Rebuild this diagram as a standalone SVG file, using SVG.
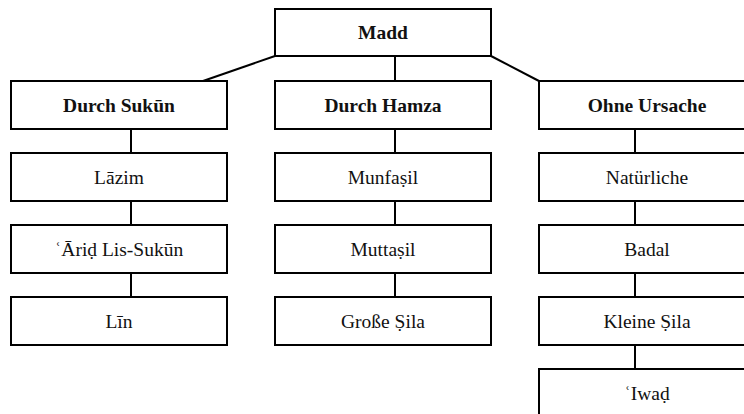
<svg xmlns="http://www.w3.org/2000/svg" width="744" height="414" viewBox="0 0 744 414">
<style>
.box{fill:#fff;stroke:#000;stroke-width:2}
.c{fill:none;stroke:#000;stroke-width:2}
text{font-family:"Liberation Serif","DejaVu Serif",serif;font-size:19.5px;fill:#111;text-anchor:middle}
.b{font-weight:bold}
</style>
<rect width="744" height="414" fill="#fff"/>
<g id="connectors">
<line class="c" x1="275" y1="56" x2="203" y2="81"/>
<line class="c" x1="395" y1="56" x2="395" y2="81"/>
<line class="c" x1="491" y1="56" x2="539" y2="81"/>
<line class="c" x1="131" y1="129" x2="131" y2="153"/>
<line class="c" x1="131" y1="201" x2="131" y2="225"/>
<line class="c" x1="131" y1="273" x2="131" y2="297"/>
<line class="c" x1="395" y1="129" x2="395" y2="153"/>
<line class="c" x1="395" y1="201" x2="395" y2="225"/>
<line class="c" x1="395" y1="273" x2="395" y2="297"/>
<line class="c" x1="635" y1="129" x2="635" y2="153"/>
<line class="c" x1="635" y1="201" x2="635" y2="225"/>
<line class="c" x1="635" y1="273" x2="635" y2="297"/>
<line class="c" x1="635" y1="345" x2="635" y2="369"/>
</g>
<g id="madd"><rect class="box" x="275" y="9" width="216" height="47"/><text class="b" x="383" y="38.5">Madd</text></g>
<g id="durch-sukun"><rect class="box" x="11" y="81" width="216" height="48"/><text class="b" x="119" y="111.5">Durch Sukūn</text></g>
<g id="durch-hamza"><rect class="box" x="275" y="81" width="216" height="48"/><text class="b" x="383" y="111.5">Durch Hamza</text></g>
<g id="ohne-ursache"><rect class="box" x="539" y="81" width="216" height="48"/><text class="b" x="647" y="111.5">Ohne Ursache</text></g>
<g id="lazim"><rect class="box" x="11" y="153" width="216" height="48"/><text x="119" y="183.5">Lāzim</text></g>
<g id="arid"><rect class="box" x="11" y="225" width="216" height="48"/><text x="119" y="255.5">ʿĀriḍ Lis-Sukūn</text></g>
<g id="lin"><rect class="box" x="11" y="297" width="216" height="48"/><text x="119" y="327.5">Līn</text></g>
<g id="munfasil"><rect class="box" x="275" y="153" width="216" height="48"/><text x="383" y="183.5">Munfaṣil</text></g>
<g id="muttasil"><rect class="box" x="275" y="225" width="216" height="48"/><text x="383" y="255.5">Muttaṣil</text></g>
<g id="grosse-sila"><rect class="box" x="275" y="297" width="216" height="48"/><text x="383" y="327.5">Große Ṣila</text></g>
<g id="naturliche"><rect class="box" x="539" y="153" width="216" height="48"/><text x="647" y="183.5">Natürliche</text></g>
<g id="badal"><rect class="box" x="539" y="225" width="216" height="48"/><text x="647" y="255.5">Badal</text></g>
<g id="kleine-sila"><rect class="box" x="539" y="297" width="216" height="48"/><text x="647" y="327.5">Kleine Ṣila</text></g>
<g id="iwad"><rect class="box" x="539" y="369" width="216" height="48"/><text x="647" y="399.5">ʿIwaḍ</text></g>
</svg>
